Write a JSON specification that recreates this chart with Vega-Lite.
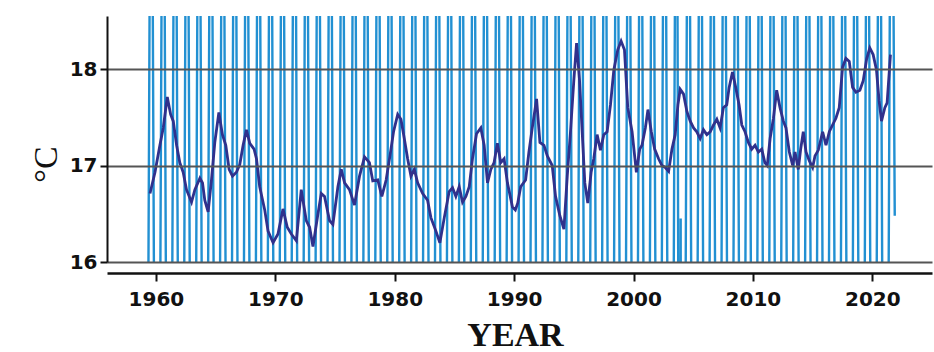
{
  "$schema": "https://vega.github.io/schema/vega-lite/v6.json",
  "width": 825,
  "height": 246,
  "autosize": {"type": "none"},
  "padding": {"left": 107, "top": 16, "right": 2, "bottom": 90},
  "background": "white",
  "config": {"view": {"stroke": null}},
  "datasets": {
    "raw": [
      {"t":1959.1,"v":8.3},{"t":1959.6,"v":22.4},{"t":1960.1,"v":8.3},{"t":1960.6,"v":22.4},
      {"t":1961.1,"v":8.3},{"t":1961.6,"v":22.4},{"t":1962.1,"v":8.3},{"t":1962.6,"v":22.4},
      {"t":1963.1,"v":8.3},{"t":1963.6,"v":22.4},{"t":1964.1,"v":8.3},{"t":1964.6,"v":22.4},
      {"t":1965.1,"v":8.3},{"t":1965.6,"v":22.4},{"t":1966.1,"v":8.3},{"t":1966.6,"v":22.4},
      {"t":1967.1,"v":8.3},{"t":1967.6,"v":22.4},{"t":1968.1,"v":8.3},{"t":1968.6,"v":22.4},
      {"t":1969.1,"v":8.3},{"t":1969.6,"v":22.4},{"t":1970.1,"v":8.3},{"t":1970.6,"v":22.4},
      {"t":1971.1,"v":8.3},{"t":1971.6,"v":22.4},{"t":1972.1,"v":8.3},{"t":1972.6,"v":22.4},
      {"t":1973.1,"v":8.3},{"t":1973.6,"v":22.4},{"t":1974.1,"v":8.3},{"t":1974.6,"v":22.4},
      {"t":1975.1,"v":8.3},{"t":1975.6,"v":22.4},{"t":1976.1,"v":8.3},{"t":1976.6,"v":22.4},
      {"t":1977.1,"v":8.3},{"t":1977.6,"v":22.4},{"t":1978.1,"v":8.3},{"t":1978.6,"v":22.4},
      {"t":1979.1,"v":8.3},{"t":1979.6,"v":22.4},{"t":1980.1,"v":8.3},{"t":1980.6,"v":22.4},
      {"t":1981.1,"v":8.3},{"t":1981.6,"v":22.4},{"t":1982.1,"v":8.3},{"t":1982.6,"v":22.4},
      {"t":1983.1,"v":8.3},{"t":1983.6,"v":22.4},{"t":1984.1,"v":8.3},{"t":1984.6,"v":22.4},
      {"t":1985.1,"v":8.3},{"t":1985.6,"v":22.4},{"t":1986.1,"v":8.3},{"t":1986.6,"v":22.4},
      {"t":1987.1,"v":8.3},{"t":1987.6,"v":22.4},{"t":1988.1,"v":8.3},{"t":1988.6,"v":22.4},
      {"t":1989.1,"v":8.3},{"t":1989.6,"v":22.4},{"t":1990.1,"v":8.3},{"t":1990.6,"v":22.4},
      {"t":1991.1,"v":8.3},{"t":1991.6,"v":22.4},{"t":1992.1,"v":8.3},{"t":1992.6,"v":22.4},
      {"t":1993.1,"v":8.3},{"t":1993.6,"v":22.4},{"t":1994.1,"v":8.3},{"t":1994.6,"v":22.4},
      {"t":1995.1,"v":8.3},{"t":1995.6,"v":22.4},{"t":1996.1,"v":8.3},{"t":1996.6,"v":22.4},
      {"t":1997.1,"v":8.3},{"t":1997.6,"v":22.4},{"t":1998.1,"v":8.3},{"t":1998.6,"v":22.4},
      {"t":1999.1,"v":8.3},{"t":1999.6,"v":22.4},{"t":2000.1,"v":8.3},{"t":2000.6,"v":22.4},
      {"t":2001.1,"v":8.3},{"t":2001.6,"v":22.4},{"t":2002.1,"v":8.3},{"t":2002.6,"v":22.4},
      {"t":2003.1,"v":8.3},{"t":2003.6,"v":22.4},{"t":2003.9,"v":9.0},{"t":2003.95,"v":16.45},{"t":2004.0,"v":9.0},
      {"t":2004.1,"v":8.3},{"t":2004.6,"v":22.4},
      {"t":2005.1,"v":8.3},{"t":2005.6,"v":22.4},{"t":2006.1,"v":8.3},{"t":2006.6,"v":22.4},
      {"t":2007.1,"v":8.3},{"t":2007.6,"v":22.4},{"t":2008.1,"v":8.3},{"t":2008.6,"v":22.4},
      {"t":2009.1,"v":8.3},{"t":2009.6,"v":22.4},{"t":2010.1,"v":8.3},{"t":2010.6,"v":22.4},
      {"t":2011.1,"v":8.3},{"t":2011.6,"v":22.4},{"t":2012.1,"v":8.3},{"t":2012.6,"v":22.4},
      {"t":2013.1,"v":8.3},{"t":2013.6,"v":22.4},{"t":2014.1,"v":8.3},{"t":2014.6,"v":22.4},
      {"t":2015.1,"v":8.3},{"t":2015.6,"v":22.4},{"t":2016.1,"v":8.3},{"t":2016.6,"v":22.4},
      {"t":2017.1,"v":8.3},{"t":2017.6,"v":22.4},{"t":2018.1,"v":8.3},{"t":2018.6,"v":22.4},
      {"t":2019.1,"v":8.3},{"t":2019.6,"v":22.4},{"t":2020.1,"v":8.3},{"t":2020.6,"v":22.4},
      {"t":2021.1,"v":8.3},{"t":2021.6,"v":22.4},{"t":2021.88,"v":16.48}
    ],
    "smooth": [
      {"t":1959.5,"v":16.71},{"t":1959.92,"v":16.93},{"t":1960.33,"v":17.21},{"t":1960.61,"v":17.39},
      {"t":1960.95,"v":17.71},{"t":1961.23,"v":17.53},{"t":1961.45,"v":17.46},{"t":1961.73,"v":17.21},
      {"t":1962.0,"v":17.03},{"t":1962.28,"v":16.93},{"t":1962.56,"v":16.75},{"t":1962.98,"v":16.62},
      {"t":1963.26,"v":16.75},{"t":1963.68,"v":16.87},{"t":1963.9,"v":16.82},{"t":1964.09,"v":16.64},
      {"t":1964.37,"v":16.52},{"t":1964.65,"v":16.85},{"t":1964.93,"v":17.24},{"t":1965.27,"v":17.55},
      {"t":1965.57,"v":17.32},{"t":1965.85,"v":17.21},{"t":1966.13,"v":16.96},{"t":1966.41,"v":16.89},
      {"t":1966.74,"v":16.93},{"t":1967.02,"v":17.01},{"t":1967.3,"v":17.21},{"t":1967.58,"v":17.37},
      {"t":1967.86,"v":17.23},{"t":1968.22,"v":17.17},{"t":1968.42,"v":17.07},{"t":1968.69,"v":16.78},
      {"t":1969.11,"v":16.54},{"t":1969.39,"v":16.32},{"t":1969.81,"v":16.2},{"t":1970.22,"v":16.29},
      {"t":1970.64,"v":16.55},{"t":1971.0,"v":16.36},{"t":1971.34,"v":16.29},{"t":1971.76,"v":16.22},
      {"t":1972.17,"v":16.75},{"t":1972.59,"v":16.43},{"t":1972.87,"v":16.36},{"t":1973.15,"v":16.16},
      {"t":1973.57,"v":16.5},{"t":1973.85,"v":16.71},{"t":1974.12,"v":16.68},{"t":1974.54,"v":16.43},
      {"t":1974.82,"v":16.39},{"t":1975.24,"v":16.78},{"t":1975.52,"v":16.96},{"t":1975.8,"v":16.82},
      {"t":1976.21,"v":16.75},{"t":1976.63,"v":16.59},{"t":1977.05,"v":16.89},{"t":1977.47,"v":17.09},
      {"t":1977.88,"v":17.03},{"t":1978.16,"v":16.84},{"t":1978.58,"v":16.85},{"t":1978.92,"v":16.68},
      {"t":1979.28,"v":16.85},{"t":1979.6,"v":17.1},{"t":1979.9,"v":17.35},{"t":1980.25,"v":17.53},
      {"t":1980.52,"v":17.48},{"t":1980.8,"v":17.28},{"t":1981.08,"v":17.07},{"t":1981.36,"v":16.89},
      {"t":1981.64,"v":16.96},{"t":1981.92,"v":16.82},{"t":1982.34,"v":16.71},{"t":1982.75,"v":16.64},
      {"t":1983.03,"v":16.46},{"t":1983.45,"v":16.32},{"t":1983.78,"v":16.2},{"t":1984.15,"v":16.46},
      {"t":1984.56,"v":16.73},{"t":1984.84,"v":16.77},{"t":1985.12,"v":16.68},{"t":1985.4,"v":16.78},
      {"t":1985.68,"v":16.62},{"t":1985.96,"v":16.68},{"t":1986.24,"v":16.78},{"t":1986.51,"v":17.07},
      {"t":1986.85,"v":17.33},{"t":1987.21,"v":17.39},{"t":1987.49,"v":17.21},{"t":1987.77,"v":16.82},
      {"t":1988.05,"v":16.96},{"t":1988.32,"v":17.03},{"t":1988.6,"v":17.23},{"t":1988.88,"v":17.03},
      {"t":1989.16,"v":17.07},{"t":1989.44,"v":16.82},{"t":1989.86,"v":16.57},{"t":1990.1,"v":16.54},
      {"t":1990.3,"v":16.61},{"t":1990.55,"v":16.78},{"t":1990.96,"v":16.85},{"t":1991.24,"v":17.14},
      {"t":1991.52,"v":17.39},{"t":1991.88,"v":17.69},{"t":1992.16,"v":17.24},{"t":1992.5,"v":17.21},
      {"t":1992.78,"v":17.1},{"t":1993.19,"v":17.0},{"t":1993.47,"v":16.68},{"t":1993.83,"v":16.48},
      {"t":1994.17,"v":16.34},{"t":1994.45,"v":16.89},{"t":1994.72,"v":17.35},{"t":1995.0,"v":17.88},
      {"t":1995.23,"v":18.27},{"t":1995.48,"v":17.88},{"t":1995.7,"v":17.35},{"t":1995.92,"v":16.82},
      {"t":1996.17,"v":16.61},{"t":1996.45,"v":16.93},{"t":1996.67,"v":17.07},{"t":1996.95,"v":17.32},
      {"t":1997.23,"v":17.16},{"t":1997.51,"v":17.32},{"t":1997.79,"v":17.35},{"t":1998.07,"v":17.63},
      {"t":1998.35,"v":17.99},{"t":1998.68,"v":18.2},{"t":1998.96,"v":18.29},{"t":1999.24,"v":18.2},
      {"t":1999.52,"v":17.6},{"t":1999.88,"v":17.35},{"t":2000.24,"v":16.93},{"t":2000.52,"v":17.17},
      {"t":2000.71,"v":17.21},{"t":2000.99,"v":17.39},{"t":2001.21,"v":17.58},{"t":2001.49,"v":17.35},
      {"t":2001.77,"v":17.17},{"t":2002.1,"v":17.07},{"t":2002.38,"v":17.0},{"t":2002.66,"v":16.98},
      {"t":2002.94,"v":16.94},{"t":2003.22,"v":17.17},{"t":2003.49,"v":17.32},{"t":2003.72,"v":17.63},
      {"t":2003.91,"v":17.79},{"t":2004.19,"v":17.74},{"t":2004.47,"v":17.56},{"t":2004.75,"v":17.46},
      {"t":2005.03,"v":17.39},{"t":2005.3,"v":17.35},{"t":2005.58,"v":17.28},{"t":2005.86,"v":17.37},
      {"t":2006.14,"v":17.32},{"t":2006.42,"v":17.35},{"t":2006.7,"v":17.42},{"t":2006.98,"v":17.48},
      {"t":2007.25,"v":17.39},{"t":2007.53,"v":17.6},{"t":2007.81,"v":17.63},{"t":2008.01,"v":17.81},
      {"t":2008.29,"v":17.97},{"t":2008.56,"v":17.81},{"t":2008.84,"v":17.63},{"t":2009.07,"v":17.42},
      {"t":2009.34,"v":17.35},{"t":2009.62,"v":17.24},{"t":2009.9,"v":17.17},{"t":2010.18,"v":17.21},
      {"t":2010.46,"v":17.14},{"t":2010.74,"v":17.17},{"t":2011.0,"v":17.03},{"t":2011.2,"v":17.0},
      {"t":2011.44,"v":17.28},{"t":2011.72,"v":17.49},{"t":2011.99,"v":17.78},{"t":2012.27,"v":17.6},
      {"t":2012.55,"v":17.46},{"t":2012.77,"v":17.39},{"t":2013.05,"v":17.14},{"t":2013.33,"v":17.0},
      {"t":2013.53,"v":17.14},{"t":2013.8,"v":16.96},{"t":2014.0,"v":17.17},{"t":2014.22,"v":17.35},
      {"t":2014.45,"v":17.14},{"t":2014.72,"v":17.05},{"t":2015.0,"v":16.98},{"t":2015.2,"v":17.1},
      {"t":2015.48,"v":17.16},{"t":2015.84,"v":17.35},{"t":2016.12,"v":17.21},{"t":2016.4,"v":17.35},
      {"t":2016.67,"v":17.42},{"t":2016.95,"v":17.49},{"t":2017.23,"v":17.6},{"t":2017.51,"v":18.02},
      {"t":2017.79,"v":18.11},{"t":2018.07,"v":18.08},{"t":2018.35,"v":17.81},{"t":2018.63,"v":17.76},
      {"t":2018.96,"v":17.78},{"t":2019.24,"v":17.88},{"t":2019.52,"v":18.1},{"t":2019.79,"v":18.22},
      {"t":2020.07,"v":18.15},{"t":2020.35,"v":17.99},{"t":2020.57,"v":17.67},{"t":2020.77,"v":17.46},
      {"t":2021.05,"v":17.6},{"t":2021.24,"v":17.65},{"t":2021.52,"v":18.15}
    ]
  },
  "layer": [
    {
      "data": {"name": "raw"},
      "mark": {"type": "line", "clip": true, "color": "#2290d2", "strokeWidth": 2.4},
      "encoding": {
        "x": {
          "field": "t", "type": "quantitative",
          "scale": {"domain": [1955.9, 2025], "nice": false, "zero": false},
          "axis": {
            "values": [1960, 1970, 1980, 1990, 2000, 2010, 2020],
            "format": "d",
            "offset": 11,
            "grid": false,
            "title": "YEAR",
            "titleFont": "Liberation Serif",
            "titleFontSize": 34,
            "titleFontWeight": "bold",
            "titleColor": "#111111",
            "titleX": 408,
            "titleY": 72,
            "titleBaseline": "alphabetic",
            "labelFont": "DejaVu Sans",
            "labelFontSize": 20,
            "labelFontWeight": "bold",
            "labelColor": "#111111",
            "labelPadding": 8,
            "tickSize": 8,
            "tickWidth": 2,
            "tickColor": "#111111",
            "domainColor": "#111111",
            "domainWidth": 2.5
          }
        },
        "y": {
          "field": "v", "type": "quantitative",
          "scale": {"domain": [16, 18.55], "nice": false, "zero": false},
          "axis": {
            "values": [16, 17, 18],
            "format": "d",
            "zindex": 1,
            "grid": true,
            "gridColor": "#555555",
            "gridWidth": 2,
            "title": "°C",
            "titleFont": "Liberation Serif",
            "titleFontSize": 34,
            "titleFontWeight": "normal",
            "titleColor": "#111111",
            "titleAngle": -90,
            "titleX": -61,
            "titleY": 148,
            "titleAlign": "center",
            "titleBaseline": "middle",
            "labelFont": "DejaVu Sans",
            "labelFontSize": 20,
            "labelFontWeight": "bold",
            "labelColor": "#111111",
            "labelPadding": 3,
            "tickSize": 7,
            "tickWidth": 2,
            "tickColor": "#111111",
            "domainColor": "#111111",
            "domainWidth": 2
          }
        }
      }
    },
    {
      "data": {"name": "smooth"},
      "mark": {"type": "line", "clip": true, "color": "#30318c", "strokeWidth": 2.8},
      "encoding": {
        "x": {"field": "t", "type": "quantitative"},
        "y": {"field": "v", "type": "quantitative"}
      }
    },
    {
      "mark": {"type": "rule", "color": "#111111", "strokeWidth": 2},
      "encoding": {"x": {"datum": 2025}}
    }
  ]
}
